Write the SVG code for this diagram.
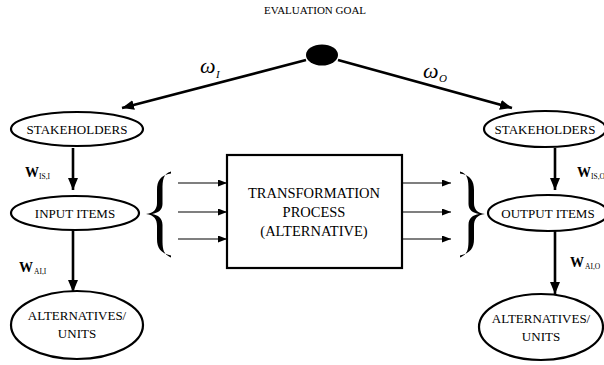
<svg xmlns="http://www.w3.org/2000/svg" width="604" height="365" viewBox="0 0 604 365" font-family="'Liberation Serif','Times New Roman',serif">
<defs>
<marker id="big" viewBox="0 0 12 10" refX="12" refY="5" markerWidth="12" markerHeight="10" markerUnits="userSpaceOnUse" orient="auto"><path d="M0,0 L12,5 L0,10 Z" fill="#000"/></marker>
<marker id="small" viewBox="0 0 9 7" refX="9" refY="3.5" markerWidth="9" markerHeight="7" markerUnits="userSpaceOnUse" orient="auto"><path d="M0,0 L9,3.5 L0,7 Z" fill="#000"/></marker>
<path id="brace" d="M171,171.5 C163,174 162.5,180 162.5,190 L162.5,204 C162.5,210 158,213 152,214 C158,215 162.5,218 162.5,225 L162.5,239 C162.5,249 163,254 171,257.5 L171,255.5 C160.5,253 157,248 157,239 L157,226 C157,219 154,215 146,214 C154,213 157,209 157,203 L157,190 C157,181 160.5,175 171,173.5 Z" fill="#000"/>
</defs>
<style>
.t{font-family:"Liberation Serif","Times New Roman",serif;fill:#000}
.n{fill:#fff;stroke:#000;stroke-width:2.2}
.lbl{font-size:13px;text-anchor:middle}
.main{stroke:#000;stroke-width:2.6;fill:none;marker-end:url(#big)}
.thin{stroke:#000;stroke-width:1.1;fill:none;marker-end:url(#small)}
.w{font-size:14px;font-weight:bold}
.sub{font-size:7.5px}
.om{font-size:22px;font-style:italic}
.oms{font-size:11px;font-style:italic}
</style>
<rect width="604" height="365" fill="#fff"/>
<text class="t" x="315" y="14" font-size="11" text-anchor="middle">EVALUATION GOAL</text>
<g id="connectors">
<path class="main" d="M306,60 L122,108"/>
<path class="main" d="M338,60 L512,108"/>
<path class="main" d="M73,148 L73,190"/>
<path class="main" d="M73,230 L73,292"/>
<path class="main" d="M555,148 L555,190"/>
<path class="main" d="M555,230 L555,294"/>
<path class="thin" d="M178,183 L227,183"/>
<path class="thin" d="M178,212 L227,212"/>
<path class="thin" d="M178,239 L227,239"/>
<path class="thin" d="M402,183 L451,183"/>
<path class="thin" d="M402,212 L451,212"/>
<path class="thin" d="M402,239 L451,239"/>
<use href="#brace"/>
<use href="#brace" transform="translate(631,0) scale(-1,1)"/>
<text class="t om" x="200" y="73">ω</text><text class="t oms" x="216" y="78">I</text>
<text class="t om" x="423" y="78">ω</text><text class="t oms" x="439" y="82">O</text>
<text class="t w" x="25" y="177">W</text><text class="t sub" x="39" y="179">IS,I</text>
<text class="t w" x="19" y="272">W</text><text class="t sub" x="34" y="274">AI,I</text>
<text class="t w" x="577" y="177">W</text><text class="t sub" x="591" y="179">IS,O</text>
<text class="t w" x="570" y="267">W</text><text class="t sub" x="585" y="269">AI,O</text>
</g>
<g id="goal"><ellipse cx="322" cy="55" rx="16" ry="10.5" fill="#000"/></g>
<g id="stake-l"><ellipse class="n" cx="77" cy="129" rx="66" ry="17"/><text class="t lbl" x="77" y="134">STAKEHOLDERS</text></g>
<g id="input"><ellipse class="n" cx="75" cy="213" rx="64" ry="17"/><text class="t lbl" x="75" y="218">INPUT ITEMS</text></g>
<g id="alt-l"><ellipse class="n" cx="77" cy="325" rx="66" ry="34"/><text class="t lbl" x="77" y="320">ALTERNATIVES/</text><text class="t lbl" x="77" y="338">UNITS</text></g>
<g id="stake-r"><ellipse class="n" cx="545" cy="129" rx="61" ry="18"/><text class="t lbl" x="545" y="134">STAKEHOLDERS</text></g>
<g id="output"><ellipse class="n" cx="548" cy="213" rx="60" ry="18"/><text class="t lbl" x="548" y="218">OUTPUT ITEMS</text></g>
<g id="alt-r"><ellipse class="n" cx="541" cy="327" rx="62" ry="33"/><text class="t lbl" x="541" y="323">ALTERNATIVES/</text><text class="t lbl" x="541" y="341">UNITS</text></g>
<g id="process"><rect x="227" y="155" width="175" height="113" fill="#fff" stroke="#000" stroke-width="2.2"/>
<text class="t" font-size="14.5" text-anchor="middle" x="314" y="198">TRANSFORMATION</text>
<text class="t" font-size="14.5" text-anchor="middle" x="314" y="217">PROCESS</text>
<text class="t" font-size="14.5" text-anchor="middle" x="314" y="236">(ALTERNATIVE)</text></g>
</svg>
